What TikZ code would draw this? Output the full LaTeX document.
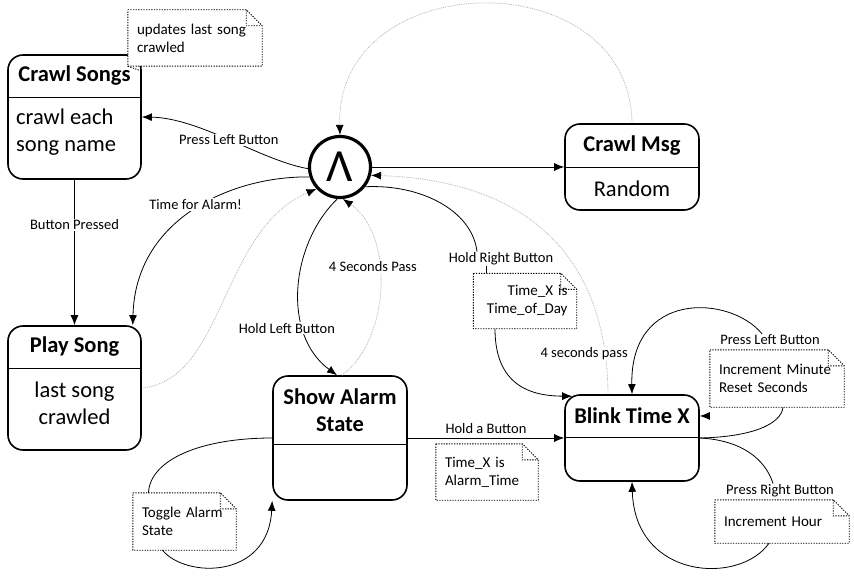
\documentclass[tikz,border=0pt]{standalone}
\usepackage{fontspec}
\setmainfont{Carlito}
\usetikzlibrary{arrows.meta,positioning}

\begin{document}
\begin{tikzpicture}[x=1pt, y=-1pt,
    > = {Latex[length=10pt, width=8pt]},
    statebox/.style = {draw, line width=1.6pt, rounded corners=15pt, minimum width=133pt, inner sep=0pt},
    headtxt/.style = {minimum width=133pt, inner sep=0pt, anchor=north, align=center, font=\fontsize{22.5}{27}\selectfont\bfseries},
    bodytxt/.style = {inner sep=0pt, font=\fontsize{22.5}{27}\selectfont},
    lbl/.style = {fill=white, inner sep=1pt, font=\fontsize{14.5}{17}\selectfont},
    notebox/.style = {fill=white, inner xsep=9pt, inner ysep=0pt, align=left, font=\fontsize{15}{18}\selectfont},
    notefrm/.style = {line width=0.9pt, dash pattern=on 1.3pt off 1.3pt},
    trans/.style = {line width=0.8pt, ->},
    dottrans/.style = {draw=gray!60, line width=0.8pt, densely dotted, -{Latex[length=10pt, width=8pt, black]}},
  ]
    \useasboundingbox (0,0) rectangle (854,580);
    % States
    %% Crawl Songs
    \node [statebox, minimum height=124pt] (cs) at (74.5,117) {};
    \node [headtxt, minimum height=43pt] (csH) at (cs.north) {Crawl Songs};
    \draw [line width=1.4pt] (csH.south west) -- (csH.south east);
    \node [bodytxt, align=left, anchor=west] (csB) at (16,132.5) {crawl each\\song name};
    %% Play Song
    \node [statebox, minimum height=124pt] (ps) at (74.5,388) {};
    \node [headtxt, minimum height=43pt] (psH) at (ps.north) {Play Song};
    \draw [line width=1.4pt] (psH.south west) -- (psH.south east);
    \node [bodytxt, align=center] (psB) at (74.5,403.5) {last song\\crawled};
    %% Show Alarm State
    \node [statebox, minimum width=134pt, minimum height=124pt] (sas) at (340,438) {};
    \node [headtxt, minimum width=134pt, minimum height=69pt] (sasH) at (sas.north) {Show Alarm\\State};
    \draw [line width=1.4pt] (sasH.south west) -- (sasH.south east);
    %% Crawl Msg
    \node [statebox, minimum width=134pt, minimum height=86pt] (cm) at (632,167) {};
    \node [headtxt, minimum width=134pt, minimum height=44pt] (cmH) at (cm.north) {Crawl Msg};
    \draw [line width=1.4pt] (cmH.south west) -- (cmH.south east);
    \node [bodytxt] (cmB) at (632,189) {Random};
    %% Blink Time X
    \node [statebox, minimum width=134pt, minimum height=86pt] (blink) at (632,438) {};
    \node [headtxt, minimum width=134pt, minimum height=43pt] (blinkH) at (blink.north) {Blink Time X};
    \draw [line width=1.4pt] (blinkH.south west) -- (blinkH.south east);
    %% Hub
    \node [circle, draw, line width=3.2pt, minimum size=61pt, inner sep=0pt,
        font=\fontsize{46}{46}\selectfont] (hub) at (340,167) {Λ};

    % Notes
    \node [notebox, text width=116pt, minimum height=56pt] (nUpd) at (195,38) {updates last song\\crawled};
    \node [notebox, text width=85pt, minimum height=55pt, align=right] (nTOD) at (525,301) {Time\_X is\\Time\_of\_Day};
    \node [notebox, text width=84pt, minimum height=56pt] (nAT) at (487,472) {Time\_X is\\Alarm\_Time};
    \node [notebox, text width=85pt, minimum height=57pt] (nTog) at (184.5,521.5) {Toggle Alarm\\State};
    \node [notebox, text width=116pt, minimum height=57pt] (nInc) at (777,378.5) {Increment Minute\\Reset Seconds};
    \node [notebox, text width=116pt, minimum height=43pt] (nHour) at (782,521.5) {Increment Hour};
    \foreach \n in {nUpd, nTOD, nAT, nTog, nInc, nHour}
        \draw [notefrm] (\n.north west) -- ([xshift=-16pt]\n.north east)
            -- ([yshift=-16pt]\n.north east) -- (\n.south east) -- (\n.south west) -- cycle
            ([xshift=-16pt]\n.north east) |- ([yshift=-16pt]\n.north east);
    \draw [notefrm] (nUpd.south west) -- ([yshift=-17pt]cs.north east);

    % Transitions
    %% Hub and the song states
    \draw [trans] (hub.183) .. controls (260,160) and (200,118) .. (cs.east)
        node [lbl, pos=0.5] (lPressL) {Press Left Button};
    \draw [trans] (cs) -- (ps) node [lbl, pos=0.31] (lBtn) {Button Pressed};
    \draw [trans] (hub.198) .. controls (230,176) and (135,220) .. ([xshift=-9pt]ps.north east)
        node [lbl, pos=0.45, xshift=-7pt] (lAlarm) {Time for Alarm!};
    \draw [dottrans] (ps.east) .. controls (225,380) and (220,230) .. (hub.223);
    %% Hub and alarm state
    \draw [trans] (hub.265) .. controls (290,245) and (282,335) .. ([xshift=-3pt]sas.north)
        node [lbl, pos=0.7, xshift=-17pt] (lHoldL) {Hold Left Button};
    \draw [dottrans] ([xshift=2pt]sas.north) .. controls (390,340) and (395,235) .. (hub.275)
        node [lbl, pos=0.6, xshift=-6pt] (l4sA) {4 Seconds Pass};
    %% Hub and message
    \draw [trans] (hub.east) -- (hub.east -| cm.west);
    \draw [dottrans] (cm.north) .. controls (630,-40) and (335,-35) .. (hub.north);
    %% Hub and blink
    \node [lbl] (lHoldR) at (501,259) {Hold Right Button};
    \draw [line width=0.8pt] (hub.-38) .. controls (420,184) and (472,210) .. ([xshift=-24pt]lHoldR.north);
    \draw [line width=0.8pt] ([xshift=-15pt]lHoldR.south) -- ([xshift=-39pt]nTOD.north);
    \draw [trans] ([xshift=-30pt]nTOD.south) .. controls (495,385) and (530,396) .. ([xshift=8pt, yshift=-2pt]blink.north west);
    \draw [dottrans] ([xshift=-24pt]blink.north) .. controls (607,250) and (520,180) .. (hub.-15)
        node [lbl, pos=0.1, xshift=-21pt] (l4sB) {4 seconds pass};
    %% Alarm state and blink
    \draw [trans] (sas.east) -- (blink.west)
        node [lbl, midway, above, fill=none, yshift=3pt] (lHoldA) {Hold a Button};
    \draw [line width=0.8pt] (sas.west) .. controls (200,438) and (150,460) .. ([xshift=-36pt]nTog.north);
    \draw [trans] ([xshift=-22pt]nTog.south) .. controls (185,578) and (268,580) .. (sas.south west);
    %% Blink loops
    \node [lbl] (lPressL2) at (770,340) {Press Left Button};
    \draw [line width=0.8pt] (blink.east) .. controls (750,437) and (781,425) .. ([xshift=6pt]nInc.south);
    \draw [trans] ([xshift=-8pt]lPressL2.north) .. controls (730,295) and (630,290) .. (blink.north);
    \draw [trans] ([xshift=10pt]blink.18) -- (blink.18);
    \node [lbl] (lPressR) at (780,491) {Press Right Button};
    \draw [line width=0.8pt] (blink.east) .. controls (740,440) and (765,458) .. ([xshift=-7pt]lPressR.north);
    \draw [trans] ([xshift=-13pt]nHour.south) .. controls (740,585) and (635,580) .. (blink.south);
\end{tikzpicture}
\end{document}
